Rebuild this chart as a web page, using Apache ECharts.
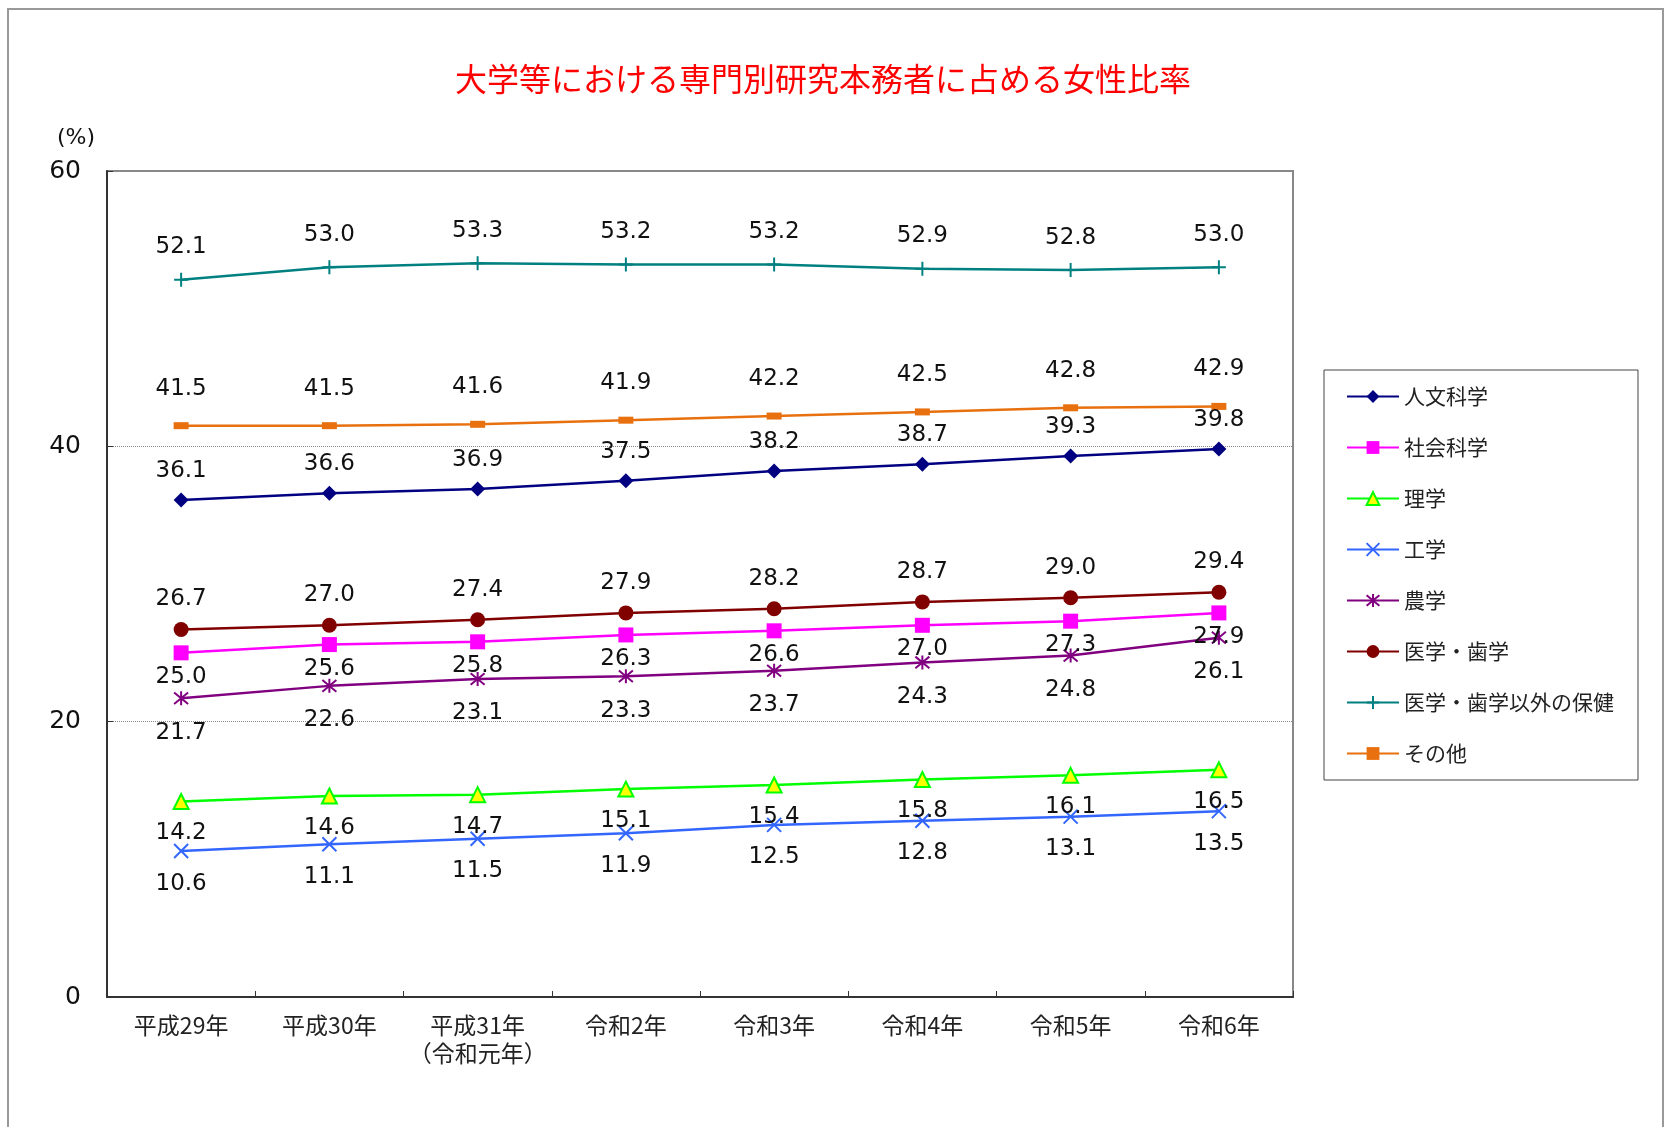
<!DOCTYPE html>
<html><head><meta charset="utf-8">
<script src="https://cdn.jsdelivr.net/npm/echarts@6/dist/echarts.min.js"></script>
<style>html,body{margin:0;padding:0;background:#fff}#c{width:1667px;height:1127px}</style>
</head><body><div id="c"></div>
<script>
const categories = ['平成29年','平成30年','平成31年\n（令和元年）','令和2年','令和3年','令和4年','令和5年','令和6年'];
const yTicks = {min: 0, max: 60, interval: 20};
const jinbun = [36.1, 36.6, 36.9, 37.5, 38.2, 38.7, 39.3, 39.8];
const shakai = [25.0, 25.6, 25.8, 26.3, 26.6, 27.0, 27.3, 27.9];
const rigaku = [14.2, 14.6, 14.7, 15.1, 15.4, 15.8, 16.1, 16.5];
const kougaku = [10.6, 11.1, 11.5, 11.9, 12.5, 12.8, 13.1, 13.5];
const nougaku = [21.7, 22.6, 23.1, 23.3, 23.7, 24.3, 24.8, 26.1];
const igaku = [26.7, 27.0, 27.4, 27.9, 28.2, 28.7, 29.0, 29.4];
const hoken = [52.1, 53.0, 53.3, 53.2, 53.2, 52.9, 52.8, 53.0];
const sonota = [41.5, 41.5, 41.6, 41.9, 42.2, 42.5, 42.8, 42.9];
const seriesNames = ['人文科学','社会科学','理学','工学','農学','医学・歯学','医学・歯学以外の保健','その他'];

const JP = '"Noto Sans CJK JP", sans-serif';
const NUM = '"DejaVu Sans", sans-serif';

function mk(name, data, color, symbol, size, itemStyle, pos, dist) {
  return {
    name, type: 'line', data, symbol, symbolSize: size,
    lineStyle: {color, width: 2.5},
    itemStyle: Object.assign({color}, itemStyle || {}),
    label: {show: true, position: pos, distance: dist, color: '#111',
      fontFamily: NUM, fontSize: 23, lineHeight: 23,
      formatter: p => Number(p.value).toFixed(1)},
    emphasis: {disabled: true},
    z: 3
  };
}

const chart = echarts.init(document.getElementById('c'));
chart.setOption({
  animation: false,
  backgroundColor: '#fff',
  graphic: [
    {type: 'rect', shape: {x: 8, y: 9, width: 1655, height: 1200},
     style: {fill: 'none', stroke: '#999', lineWidth: 2}, z: -1},
    {type: 'text', x: 823, y: 79,
     style: {text: '大学等における専門別研究本務者に占める女性比率', fill: '#FF0000',
       font: '32px "Noto Sans CJK JP"', textAlign: 'center', textVerticalAlign: 'middle'}},
    {type: 'text', x: 76, y: 138,
     style: {text: '(%)', fill: '#111', font: '22px "DejaVu Sans"',
       textAlign: 'center', textVerticalAlign: 'middle'}}
  ],
  grid: {left: 107, right: 374, top: 171, bottom: 130, show: true,
    borderColor: '#888', borderWidth: 2, backgroundColor: 'transparent'},
  legend: {
    orient: 'vertical', left: 1324, top: 370,
    padding: [16, 24, 16, 22],
    borderColor: '#444', borderWidth: 1,
    itemWidth: 52, itemHeight: 16, itemGap: 30,
    textStyle: {fontFamily: JP, fontSize: 21, lineHeight: 21, color: '#222'},
    data: seriesNames
  },
  xAxis: {
    type: 'category', data: categories, boundaryGap: true,
    axisLine: {lineStyle: {color: '#333', width: 2}},
    axisTick: {show: true, inside: true, length: 6, lineStyle: {color: '#333', width: 1}},
    axisLabel: {fontFamily: JP, fontSize: 23, lineHeight: 28, color: '#222', margin: 14, interval: 0}
  },
  yAxis: {
    type: 'value', min: yTicks.min, max: yTicks.max, interval: yTicks.interval,
    axisLine: {show: true, lineStyle: {color: '#333', width: 2}},
    axisTick: {show: true, inside: true, length: 6, lineStyle: {color: '#333', width: 1}},
    axisLabel: {fontFamily: NUM, fontSize: 25, color: '#111', margin: 26},
    splitLine: {show: true, lineStyle: {color: '#888', type: 'dotted', width: 1}}
  },
  series: [
    mk(seriesNames[0], jinbun, '#000080', 'diamond', 15, null, 'top', 10),
    mk(seriesNames[1], shakai, '#FF00FF', 'rect', 15, null, 'bottom', 5),
    Object.assign(mk(seriesNames[2], rigaku, '#00FF00', 'triangle', 15,
      {color: '#FFFF00', borderColor: '#00FF00', borderWidth: 2}, 'bottom', 12),
      {lineStyle: {color: '#00FF00', width: 2.5}}),
    mk(seriesNames[3], kougaku, '#3366FF', 'path://M0,0L10,10M10,0L0,10', 14,
      {borderColor: '#3366FF', borderWidth: 2}, 'bottom', 13),
    mk(seriesNames[4], nougaku, '#800080', 'path://M0,0L10,10M10,0L0,10M5,-1L5,11', 14,
      {borderColor: '#800080', borderWidth: 2}, 'bottom', 15),
    mk(seriesNames[5], igaku, '#800000', 'circle', 15, null, 'top', 11),
    mk(seriesNames[6], hoken, '#008080', 'path://M5,0L5,10M0,5L10,5', 14,
      {borderColor: '#008080', borderWidth: 2}, 'top', 13),
    mk(seriesNames[7], sonota, '#E8700F', 'rect', [15, 7], null, 'top', 22)
  ]
});
</script></body></html>
